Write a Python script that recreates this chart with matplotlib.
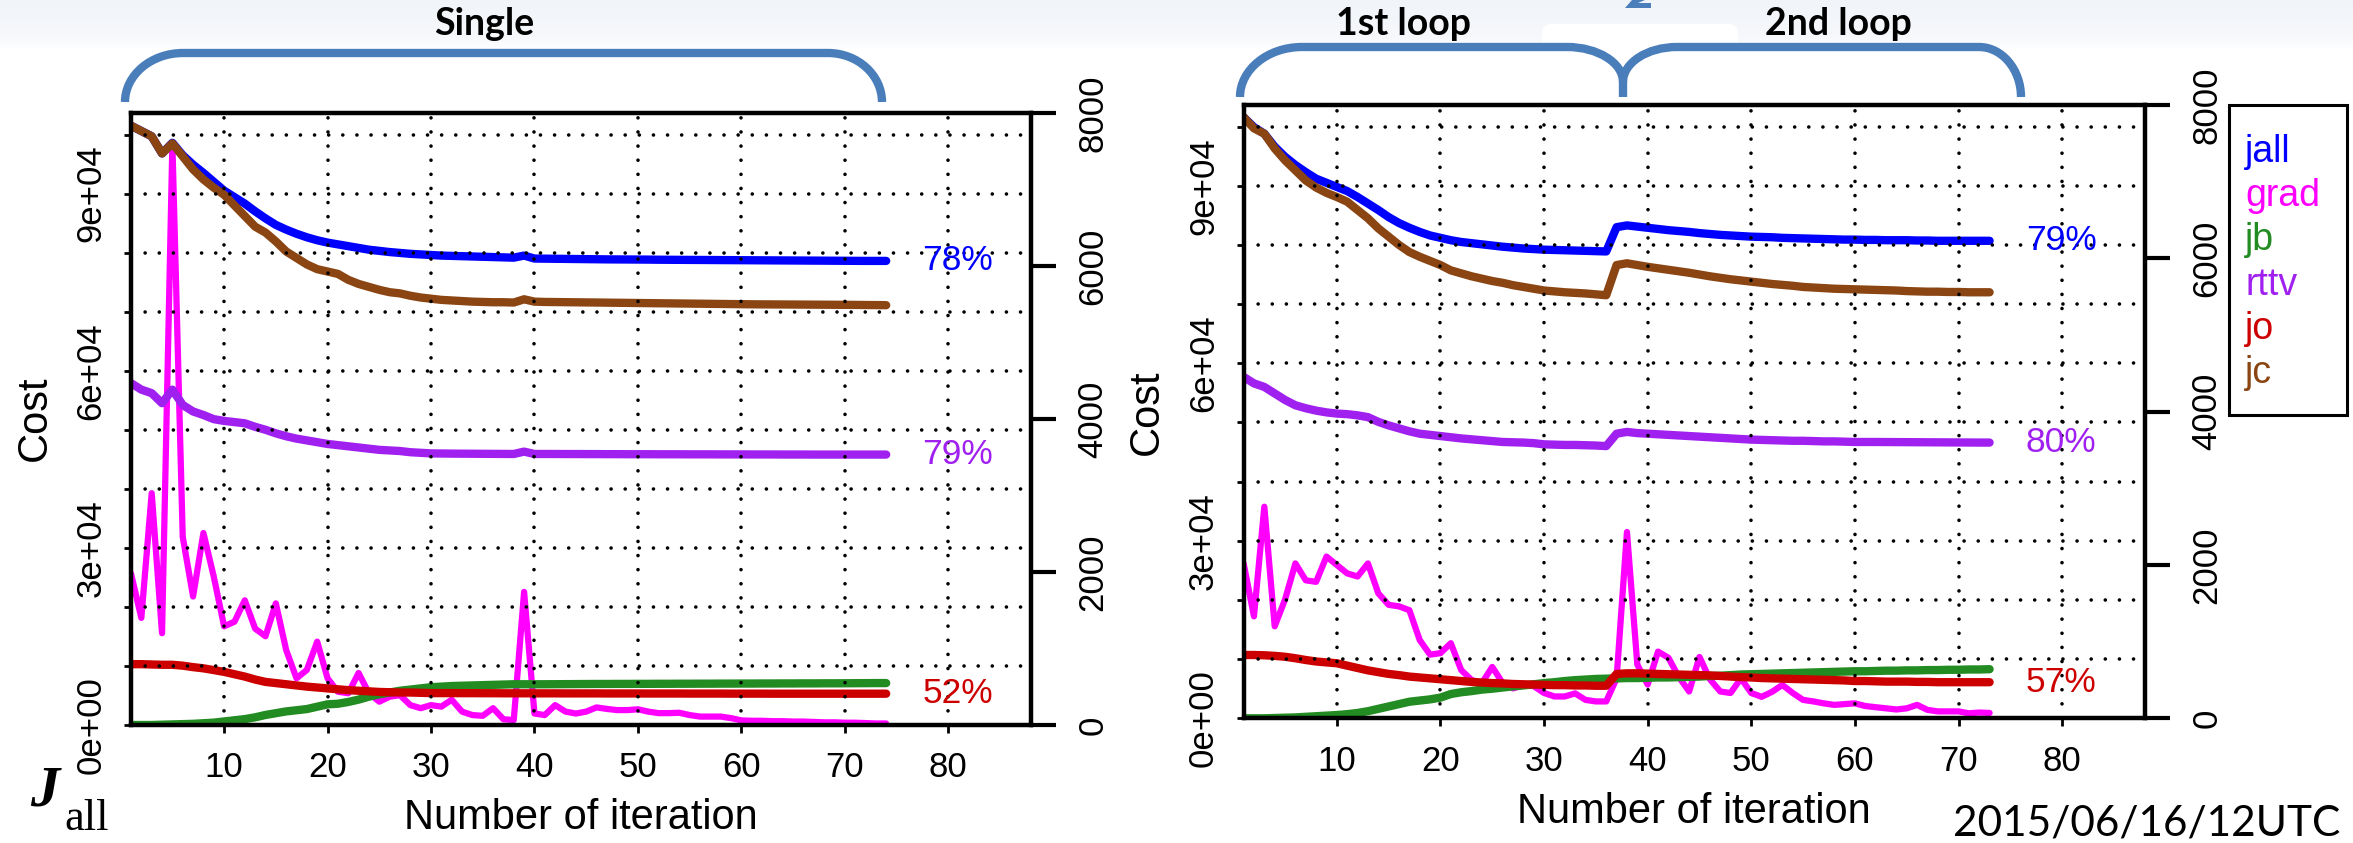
import numpy as np
import matplotlib
matplotlib.use("Agg")
import matplotlib.pyplot as plt
from matplotlib.patches import Rectangle, FancyBboxPatch, PathPatch, Polygon
from matplotlib.path import Path
from matplotlib.transforms import IdentityTransform

# ---------------- data ----------------
iters_single = list(range(1, 75))
iters_loop = list(range(1, 74))

jall_single = [101500, 100600, 99700, 96800, 98600, 96500, 94900, 93500, 92000, 90500,
               89400, 88300, 87000, 85800, 84700, 83900, 83200, 82600, 82100, 81700,
               81400, 81100, 80800, 80500, 80300, 80100, 79950, 79800, 79700, 79600,
               79500, 79450, 79400, 79350, 79300, 79250, 79200, 79150, 79500, 79000,
               78980, 78960, 78940, 78920, 78900, 78880, 78860, 78850, 78840, 78830,
               78820, 78800, 78790, 78780, 78770, 78760, 78750, 78740, 78730, 78720,
               78710, 78700, 78690, 78680, 78670, 78660, 78650, 78640, 78630, 78620,
               78610, 78600, 78600, 78600]
grad_single = [1980, 1400, 3030, 1200, 7600, 2460, 1680, 2510, 1940, 1290,
               1350, 1630, 1260, 1160, 1590, 980, 610, 720, 1090, 610,
               435, 415, 680, 415, 305, 370, 390, 260, 220, 260,
               240, 330, 175, 130, 120, 220, 75, 65, 1740, 150,
               130, 260, 175, 150, 175, 230, 210, 195, 195, 205,
               175, 155, 155, 160, 130, 110, 110, 110, 90, 60,
               55, 55, 50, 50, 45, 45, 40, 35, 35, 30,
               30, 25, 20, 20]
jb_single = [0, 0, 0, 50, 100, 150, 200, 300, 400, 600,
             800, 1000, 1300, 1700, 2000, 2300, 2500, 2700, 3100, 3500,
             3600, 3900, 4300, 4800, 5200, 5500, 5800, 6000, 6200, 6400,
             6500, 6600, 6650, 6700, 6750, 6800, 6850, 6900, 6900, 6900,
             6900, 6910, 6920, 6930, 6940, 6950, 6950, 6960, 6960, 6970,
             6970, 6980, 6980, 6990, 6990, 7000, 7000, 7010, 7010, 7020,
             7020, 7030, 7030, 7040, 7040, 7050, 7050, 7060, 7060, 7070,
             7080, 7090, 7100, 7100]
rttv_single = [57900, 56800, 56200, 54500, 56800, 54200, 53100, 52500, 51800, 51500,
               51300, 51100, 50500, 50000, 49400, 48900, 48500, 48200, 47900, 47600,
               47400, 47200, 47000, 46800, 46600, 46500, 46400, 46200, 46100, 46000,
               45980, 45960, 45950, 45940, 45930, 45920, 45910, 45900, 46300, 45900,
               45900, 45900, 45890, 45890, 45880, 45880, 45870, 45870, 45860, 45860,
               45860, 45850, 45850, 45850, 45840, 45840, 45840, 45830, 45830, 45830,
               45820, 45820, 45820, 45810, 45810, 45810, 45800, 45800, 45800, 45800,
               45800, 45800, 45800, 45800]
jo_single = [10300, 10300, 10250, 10200, 10200, 10050, 9800, 9600, 9300, 9000,
             8600, 8200, 7700, 7300, 7100, 6900, 6700, 6500, 6350, 6200,
             6050, 5900, 5800, 5700, 5600, 5550, 5500, 5500, 5450, 5400,
             5400, 5400, 5390, 5390, 5380, 5380, 5370, 5370, 5370, 5360,
             5360, 5360, 5350, 5350, 5350, 5350, 5340, 5340, 5340, 5340,
             5330, 5330, 5330, 5330, 5320, 5320, 5320, 5320, 5310, 5310,
             5310, 5310, 5300, 5300, 5300, 5300, 5300, 5300, 5300, 5300,
             5300, 5300, 5300, 5300]
jc_single = [101500, 100600, 99700, 96800, 98500, 96300, 94100, 92400, 91000, 89800,
             88000, 86200, 84400, 83400, 81900, 80200, 79100, 78000, 77200, 76800,
             76400, 75400, 74700, 74200, 73700, 73300, 73100, 72700, 72400, 72200,
             72000, 71900, 71800, 71700, 71650, 71600, 71600, 71550, 72100, 71700,
             71650, 71630, 71610, 71590, 71570, 71550, 71530, 71510, 71490, 71470,
             71450, 71430, 71410, 71390, 71370, 71350, 71330, 71310, 71290, 71270,
             71250, 71240, 71230, 71220, 71210, 71200, 71190, 71180, 71170, 71160,
             71150, 71130, 71120, 71100]

jall_loop = [101600, 99900, 98800, 96600, 94900, 93500, 92300, 91200, 90500, 89800,
             89100, 88100, 87000, 85900, 84700, 83700, 82900, 82200, 81600, 81200,
             80800, 80500, 80300, 80100, 79900, 79700, 79550, 79400, 79300, 79200,
             79150, 79100, 79050, 79000, 78950, 78900, 83000, 83300, 83100, 82900,
             82700, 82500, 82350, 82200, 82000, 81850, 81700, 81600, 81500, 81400,
             81350, 81300, 81200, 81150, 81100, 81050, 81000, 80950, 80900, 80900,
             80850, 80850, 80800, 80800, 80800, 80750, 80750, 80700, 80700, 80700,
             80700, 80700, 80700]
grad_loop = [2020, 1330, 2760, 1200, 1550, 2020, 1800, 1780, 2110, 2000,
             1890, 1850, 2020, 1630, 1480, 1460, 1410, 1020, 830, 850,
             980, 630, 500, 460, 670, 460, 390, 430, 420, 330,
             285, 285, 325, 240, 220, 220, 520, 2430, 700, 440,
             870, 790, 540, 350, 800, 510, 350, 330, 520, 330,
             280, 345, 435, 330, 240, 220, 195, 175, 185, 195,
             160, 145, 130, 115, 130, 175, 110, 90, 90, 90,
             65, 75, 70]
jb_loop = [0, 0, 0, 50, 100, 150, 250, 350, 450, 550,
           700, 900, 1200, 1600, 2000, 2400, 2800, 3000, 3200, 3500,
           4100, 4400, 4600, 4850, 5000, 5200, 5400, 5550, 5750, 5950,
           6100, 6300, 6450, 6550, 6650, 6700, 6750, 6800, 6800, 6850,
           6900, 6900, 6950, 7000, 7050, 7150, 7200, 7300, 7400, 7450,
           7500, 7550, 7600, 7650, 7700, 7750, 7800, 7850, 7900, 7950,
           7950, 8000, 8050, 8050, 8100, 8100, 8150, 8150, 8200, 8200,
           8250, 8250, 8300]
rttv_loop = [57700, 56600, 56000, 54900, 53800, 52900, 52400, 52000, 51700, 51500,
             51400, 51200, 50900, 50100, 49500, 49000, 48500, 48100, 47900, 47700,
             47500, 47300, 47150, 47000, 46850, 46700, 46650, 46600, 46500, 46300,
             46250, 46200, 46200, 46150, 46100, 46000, 48100, 48400, 48200, 48100,
             48000, 47900, 47800, 47700, 47600, 47500, 47400, 47300, 47200, 47100,
             47050, 47000, 46950, 46900, 46900, 46850, 46800, 46800, 46750, 46700,
             46700, 46700, 46690, 46680, 46670, 46660, 46650, 46640, 46630, 46620,
             46610, 46600, 46600]
jo_loop = [10700, 10700, 10650, 10550, 10400, 10150, 9850, 9600, 9450, 9300,
           8900, 8500, 8100, 7800, 7500, 7300, 7050, 6900, 6750, 6600,
           6450, 6300, 6150, 6050, 5950, 5900, 5800, 5750, 5700, 5650,
           5600, 5600, 5550, 5550, 5500, 5500, 7500, 7600, 7600, 7550,
           7500, 7450, 7400, 7350, 7300, 7250, 7150, 7050, 6950, 6900,
           6800, 6750, 6700, 6650, 6600, 6550, 6500, 6450, 6400, 6300,
           6300, 6250, 6200, 6200, 6200, 6150, 6150, 6100, 6100, 6100,
           6100, 6100, 6100]
jc_loop = [101600, 99700, 98800, 96300, 94300, 92600, 90900, 89700, 88800, 88100,
           87300, 85900, 84500, 82800, 81400, 80000, 78800, 78000, 77300, 76600,
           75700, 75200, 74700, 74300, 73900, 73600, 73200, 72900, 72600, 72300,
           72150, 72000, 71900, 71800, 71650, 71500, 76600, 76900, 76600, 76300,
           76050, 75800, 75550, 75300, 75000, 74700, 74450, 74200, 74000, 73800,
           73600, 73400, 73250, 73100, 72900, 72800, 72700, 72600, 72550, 72500,
           72450, 72400, 72350, 72300, 72200, 72150, 72100, 72100, 72050, 72050,
           72000, 72000, 72000]

pct_single = {"jall": "78%", "rttv": "79%", "jo": "52%"}
pct_loop = {"jall": "79%", "rttv": "80%", "jo": "57%"}

legend_names = ["jall", "grad", "jb", "rttv", "jo", "jc"]
colors = {"jall": "#0000FF", "grad": "#FF00FF", "jb": "#228B22",
          "rttv": "#A020F0", "jo": "#CD0000", "jc": "#8B4513"}

ytick_vals = list(range(0, 100001, 10000))
ytick_labels = ["0e+00", "", "", "3e+04", "", "", "6e+04", "", "", "9e+04", ""]
ytick2_vals = [0, 2000, 4000, 6000, 8000]
xtick_vals = [10, 20, 30, 40, 50, 60, 70, 80]

# ---------------- figure ----------------
W, H = 2353, 843
fig = plt.figure(figsize=(W / 100, H / 100), dpi=100)
fig.patch.set_facecolor("white")
RFONT = "Liberation Sans"
plt.rcParams["font.family"] = [RFONT, "DejaVu Sans"]


def fx(x):
    return x / W


def fy(y):
    return 1 - y / H


PIX = IdentityTransform()

# top light band
band = fig.add_axes([0, fy(50), 1, 50 / H])
band.axis("off")
rows = np.ones((50, 1, 3))
base_top = np.array([0.945, 0.957, 0.975])
base_mid = np.array([0.965, 0.973, 0.985])
for r in range(50):
    if r < 36:
        c = base_top * (1 - r / 36) + base_mid * (r / 36)
    else:
        t = min(1.0, (r - 36) / 12)
        c = base_mid * (1 - t) + np.array([1, 1, 1]) * t
    rows[r, 0, :] = c
band.imshow(rows, aspect="auto", extent=[0, 1, 0, 1])
band.set_xlim(0, 1)
band.set_ylim(0, 1)

# white rounded box and partial glyph at top centre
fig.add_artist(FancyBboxPatch((1542, H - 60), 196, 36,
                              boxstyle="round,pad=0,rounding_size=10",
                              transform=PIX, fc="white", ec="none"))
fig.add_artist(Polygon([(1625, H - 8), (1651, H - 8), (1651, H - 3), (1638, H - 3),
                        (1645, H), (1632, H)], closed=True,
                       transform=PIX, fc="#4A7EBB", ec="none"))

# braces
k = 0.55
BR = "#4A7EBB"


def brace(pts):
    verts, codes = pts
    return PathPatch(Path([(x, H - y) for x, y in verts], codes), transform=PIX,
                     fc="none", ec=BR, lw=6.0, capstyle="butt", joinstyle="round")


M, L, C = Path.MOVETO, Path.LINETO, Path.CURVE4
left_brace = ([(125, 102), (125, 102 - 49 * k), (183 - 58 * k, 53), (183, 53),
               (828, 53), (828 + 54 * k, 53), (882, 102 - 49 * k), (882, 102)],
              [M, C, C, C, L, C, C, C])
loop1_brace = ([(1240, 97), (1240, 97 - 50 * k), (1302 - 62 * k, 47), (1302, 47),
                (1567, 47), (1567 + 56 * k, 47), (1623, 82 - 35 * k), (1623, 82),
                (1623, 97)],
               [M, C, C, C, L, C, C, C, L])
loop2_brace = ([(1623, 82), (1623, 82 - 35 * k), (1677 - 54 * k, 47), (1677, 47),
                (1979, 47), (1979 + 42 * k, 47), (2021, 97 - 50 * k), (2021, 97)],
               [M, C, C, C, L, C, C, C])
for b in (left_brace, loop1_brace, loop2_brace):
    fig.add_artist(brace(b))

TFONT = ["Lato", "DejaVu Sans"]
fig.text(fx(484), fy(35), "Single", family=TFONT, weight="bold", fontsize=27,
         ha="center", va="baseline")
fig.text(fx(1403), fy(35), "1st loop", family=TFONT, weight="bold", fontsize=27,
         ha="center", va="baseline")
fig.text(fx(1838), fy(35), "2nd loop", family=TFONT, weight="bold", fontsize=27,
         ha="center", va="baseline")


def panel(rect, its, series, pcts):
    ax = fig.add_axes(rect)
    ax2 = ax.twinx()
    ax.set_zorder(ax2.get_zorder() + 1)
    ax.patch.set_visible(False)
    ax2.patch.set_visible(False)

    ax2.plot(its, series["grad"], color=colors["grad"], lw=4.5,
             solid_joinstyle="round", solid_capstyle="round")
    for name in ["jall", "jb", "rttv", "jo", "jc"]:
        ax.plot(its, series[name], color=colors[name], lw=6.0,
                solid_joinstyle="round", solid_capstyle="round")

    ax.set_xlim(1, 88)
    ax.set_ylim(0, 103650)
    ax2.set_ylim(0, 8000)

    ax.set_xticks(xtick_vals)
    ax.set_xticklabels([str(v) for v in xtick_vals])
    ax.set_yticks(ytick_vals)
    ax.set_yticklabels(ytick_labels)
    ax2.set_yticks(ytick2_vals)
    ax2.set_yticklabels([str(v) for v in ytick2_vals])

    ax.grid(True, color="black", linestyle=(0, (0.01, 3.9)), lw=2.6)
    for gl in ax.get_xgridlines() + ax.get_ygridlines():
        gl.set_dash_capstyle("round")
    ax.set_axisbelow(False)

    for sp in ax.spines.values():
        sp.set_linewidth(3.2)
    for sp in ax2.spines.values():
        sp.set_visible(False)

    ax.tick_params(axis="x", length=6, width=2, pad=13, labelsize=25)
    ax.tick_params(axis="y", length=5, width=2, pad=12, labelsize=25,
                   labelrotation=90, right=False)
    ax2.tick_params(axis="y", length=18, width=3, pad=14.5, labelsize=25,
                    labelrotation=90)
    for lbl in ax.get_yticklabels() + ax2.get_yticklabels():
        lbl.set_va("center")

    ax.set_xlabel("Number of iteration", fontsize=30)
    ax.xaxis.set_label_coords(0.5, -0.12)

    last = its[-1]
    for name, txt in pcts.items():
        ax.text(last + 3.5, series[name][-1], txt, color=colors[name],
                fontsize=25.5, ha="left", va="center")
    return ax, ax2


single = {"jall": jall_single, "grad": grad_single, "jb": jb_single,
          "rttv": rttv_single, "jo": jo_single, "jc": jc_single}
loop = {"jall": jall_loop, "grad": grad_loop, "jb": jb_loop,
        "rttv": rttv_loop, "jo": jo_loop, "jc": jc_loop}

panel([fx(131), fy(725), 900 / W, 612 / H], iters_single, single, pct_single)
panel([fx(1243.6), fy(718.3), 901.4 / W, 613.3 / H], iters_loop, loop, pct_loop)

fig.text(fx(35), fy(418), "Cost", rotation=90, ha="center", va="center", fontsize=30)
fig.text(fx(1147), fy(412), "Cost", rotation=90, ha="center", va="center", fontsize=30)

# legend box (right panel)
fig.add_artist(Rectangle((2229, H - 415), 118, 310, transform=PIX,
                         fill=False, ec="black", lw=2.2))
for i, name in enumerate(legend_names):
    fig.text(fx(2245), fy(162 + 44.2 * i), name, color=colors[name],
             fontsize=27, ha="left", va="baseline")

# J_all annotation and date
fig.text(fx(30), fy(805), "J", family=["Liberation Serif", "DejaVu Serif"],
         style="italic", weight="bold", fontsize=42, ha="left", va="baseline")
fig.text(fx(64), fy(830), "all", family=["Liberation Serif", "DejaVu Serif"],
         fontsize=32, ha="left", va="baseline")
fig.text(fx(2340), fy(835), "2015/06/16/12UTC", family=TFONT, fontsize=30.5,
         ha="right", va="baseline")

fig.savefig("out.png", dpi=100)
